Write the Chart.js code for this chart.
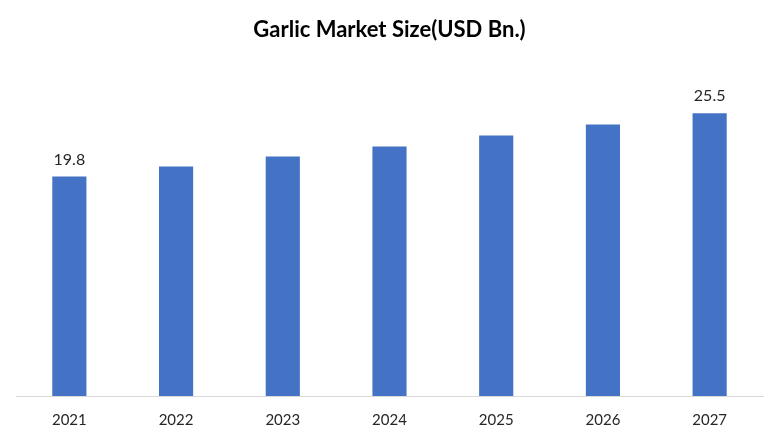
<!DOCTYPE html>
<html>
<head>
<meta charset="utf-8">
<script src="https://cdn.jsdelivr.net/npm/chart.js@4/dist/chart.umd.min.js"></script>
<style>
  html, body { margin: 0; padding: 0; background: #fff; }
  #wrap { width: 780px; height: 440px; }
</style>
</head>
<body>
<div id="wrap"><canvas id="graphique"></canvas></div>
<script>
// données
const annees = ["2021", "2022", "2023", "2024", "2025", "2026", "2027"];
const valeurs = [19.8, 20.7, 21.6, 22.5, 23.5, 24.5, 25.5];
// seules la premiere et la derniere barre portent une etiquette
const etiquettes = ["19.8", "", "", "", "", "", "25.5"];

// petit plugin pour ecrire les valeurs au dessus des barres
const pluginEtiquettes = {
    id: "etiquettes",
    afterDatasetsDraw(chart) {
        const ctx = chart.ctx;
        const meta = chart.getDatasetMeta(0);
        ctx.save();
        ctx.font = "16px Lato";
        ctx.fillStyle = "#262626";
        ctx.textAlign = "center";
        ctx.textBaseline = "bottom";
        meta.data.forEach((bar, i) => {
            if (etiquettes[i]) {
                ctx.fillText(etiquettes[i], bar.x, bar.y - 9);
            }
        });
        ctx.restore();
    }
};

const data = {
    labels: annees,
    datasets: [{
        label: "Garlic Market Size",
        data: valeurs,
        backgroundColor: "#4472C4",
        barPercentage: 0.32,
        categoryPercentage: 1.0
    }]
};

const config = {
    type: "bar",
    data: data,
    options: {
        responsive: true,
        maintainAspectRatio: false,
        animation: false,
        layout: { padding: { left: 16, right: 17, top: 0, bottom: 4 } },
        plugins: {
            legend: { display: false },
            tooltip: { enabled: false },
            title: {
                display: true,
                text: "Garlic Market Size(USD Bn.)",
                color: "#000",
                font: { family: "Lato", size: 22, weight: "bold" },
                padding: { top: 17, bottom: 20 }
            }
        },
        scales: {
            x: {
                grid: { display: false },
                border: { display: true, color: "#d9d9d9", width: 1 },
                ticks: { color: "#262626", font: { family: "Lato", size: 15 }, padding: 7 }
            },
            y: {
                display: false,
                min: 0,
                max: 30
            }
        }
    },
    plugins: [pluginEtiquettes]
};

new Chart(document.querySelector("#graphique"), config);
</script>
</body>
</html>
